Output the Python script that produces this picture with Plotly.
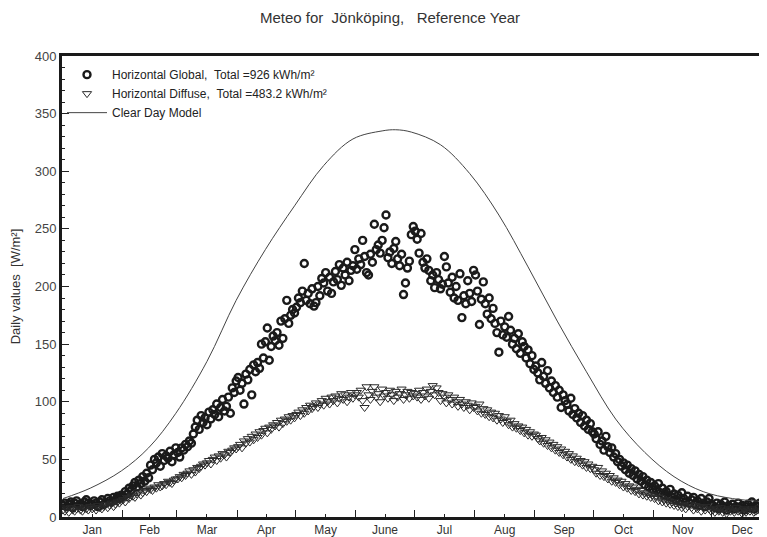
import plotly.graph_objects as go

# ---------------- data ----------------
months = ["Jan", "Feb", "Mar", "Apr", "May", "June", "Jul", "Aug", "Sep", "Oct", "Nov", "Dec"]
month_lengths = [31, 28, 31, 30, 31, 30, 31, 31, 30, 31, 30, 31]

global_jan = [10,12,9,11,13,8,12,14,10,11,9,13,15,12,10,11,14,12,9,13,15,11,12,16,14,13,17,15,18,16,19]
global_feb = [18,22,20,25,23,27,30,26,32,29,35,31,38,34,45,41,50,47,52,44,55,49,53,51,57,48,54,60]
global_mar = [56,52,60,58,63,61,66,64,72,78,84,76,88,82,86,80,91,85,93,89,98,87,95,102,92,96,104,90,112,108,118]
global_apr = [121,110,116,98,124,119,128,106,132,126,134,129,150,138,152,164,136,148,157,153,160,149,170,155,172,188,168,175,180,177]
global_may = [182,190,186,196,220,188,194,185,198,183,186,200,192,207,203,212,196,208,194,204,213,206,219,201,216,210,221,205,214,218,232]
global_jun = [215,224,219,240,226,212,210,228,221,254,232,236,229,240,251,262,225,230,220,233,239,224,218,228,193,203,216,222,245,252]
global_jul = [248,241,229,246,221,216,224,214,205,210,199,212,206,198,202,226,217,203,195,208,190,200,188,211,173,192,185,205,194,187,214]
global_aug = [210,196,167,189,204,185,176,190,172,181,168,160,143,170,158,165,156,174,162,150,155,146,159,142,152,148,138,145,133,140,128]
global_sep = [131,125,119,134,122,116,127,112,118,108,114,104,110,95,106,101,98,92,103,89,94,86,90,82,88,79,84,76,81,74]
global_oct = [72,68,74,63,66,58,70,61,56,60,52,55,48,50,44,47,41,45,38,42,36,40,33,37,31,35,28,32,26,30,24]
global_nov = [27,23,29,21,25,19,22,18,24,17,20,15,19,14,21,16,13,18,12,15,17,11,14,10,16,12,9,13,16,11]
global_dec = [10,8,12,7,11,9,13,6,10,8,11,7,9,12,8,10,6,9,11,8,13,7,10,9,12,8,11,10,13,9,12]

diffuse_jan = [6,5,7,4,8,6,5,7,9,6,5,8,7,6,9,7,8,6,10,8,7,9,11,8,10,12,9,11,13,12,14]
diffuse_feb = [15,13,17,16,19,18,17,20,22,19,21,23,22,25,24,23,26,25,28,26,27,29,28,31,30,29,32,33]
diffuse_mar = [33,35,34,37,36,38,40,37,41,39,43,42,44,46,45,47,49,46,50,52,49,53,51,55,54,52,57,56,58,60,59]
diffuse_apr = [61,63,60,66,64,68,65,70,67,72,69,74,71,75,77,73,78,76,80,79,82,78,84,81,85,83,87,84,88,86]
diffuse_may = [89,91,88,93,90,95,92,97,94,96,99,95,98,101,97,103,100,98,104,101,105,99,103,107,102,106,100,104,108,103,106]
diffuse_jun = [108,104,110,101,95,113,106,102,109,113,104,107,100,111,105,108,103,110,106,101,109,104,107,111,102,106,109,103,108,105]
diffuse_jul = [107,104,110,102,108,105,111,103,109,114,106,112,108,101,107,104,99,106,102,98,104,100,96,102,98,95,100,97,93,99,95]
diffuse_aug = [96,92,98,90,94,89,93,87,91,86,90,84,88,85,82,87,83,80,84,78,81,77,79,75,78,73,76,71,74,70,72]
diffuse_sep = [71,68,66,69,64,67,62,65,60,63,58,61,56,59,54,57,52,55,50,53,48,51,47,49,45,48,43,46,42,44]
diffuse_oct = [41,38,43,36,40,35,38,33,36,31,34,30,32,28,31,26,29,25,27,23,26,22,24,20,23,19,21,18,20,17,19]
diffuse_nov = [16,18,14,17,13,15,12,14,11,13,10,12,9,11,8,10,7,9,11,8,6,10,7,9,5,8,6,9,7,5]
diffuse_dec = [6,4,7,5,8,4,6,3,7,5,6,4,8,5,6,3,7,4,6,5,7,4,5,6,8,4,6,5,7,6,8]

clear_days = [1, 15, 31, 45, 59, 75, 90, 105, 120, 135, 150, 165, 172, 180, 195, 210, 225, 240, 255, 270, 285, 300, 315, 330, 345, 365]
clear_vals = [16, 25, 40, 60, 90, 135, 188, 232, 270, 305, 328, 335, 336, 334, 323, 298, 262, 217, 170, 126, 85, 56, 35, 22, 16, 13]

global_vals = (global_jan + global_feb + global_mar + global_apr + global_may + global_jun +
               global_jul + global_aug + global_sep + global_oct + global_nov + global_dec)
diffuse_vals = (diffuse_jan + diffuse_feb + diffuse_mar + diffuse_apr + diffuse_may + diffuse_jun +
                diffuse_jul + diffuse_aug + diffuse_sep + diffuse_oct + diffuse_nov + diffuse_dec)
days_g = list(range(1, len(global_vals) + 1))
days_d = list(range(1, len(diffuse_vals) + 1))

# month boundaries / centres (day numbers)
bounds = [0.5]
for n in month_lengths:
    bounds.append(bounds[-1] + n)
centres = [(bounds[i] + bounds[i + 1]) / 2 for i in range(12)]

NB = "\u00a0"
FONT = "Liberation Sans, Arial, sans-serif"
TXT = "#333333"

W, H = 759, 529  # page body adds an 8px offset

fig = go.Figure()
fig.add_trace(go.Scatter(
    x=days_g, y=global_vals, mode="markers",
    name="Horizontal Global," + NB * 2 + "Total =926 kWh/m²",
    marker=dict(symbol="circle-open", size=7, color="#1a1a1a", line=dict(width=2.4, color="#1a1a1a")),
))
fig.add_trace(go.Scatter(
    x=days_d, y=diffuse_vals, mode="markers",
    name="Horizontal Diffuse," + NB * 2 + "Total =483.2 kWh/m²",
    marker=dict(symbol="triangle-down-open", size=8, color="#2a2a2a", line=dict(width=1, color="#2a2a2a")),
))
fig.add_trace(go.Scatter(
    x=clear_days, y=clear_vals, mode="lines", line_shape="spline",
    name="Clear Day Model",
    line=dict(color="#444444", width=1),
))

fig.update_layout(
    width=W, height=H,
    margin=dict(l=54, r=0, t=48, b=20),
    paper_bgcolor="white", plot_bgcolor="white",
    font=dict(family=FONT, size=12, color=TXT),
    title=dict(
        text="Meteo for" + NB * 2 + "Jönköping," + NB * 3 + "Reference Year",
        x=382 / W, xref="container", xanchor="center",
        y=1 - 10 / H, yref="container", yanchor="middle",
        font=dict(family=FONT, size=15, color=TXT),
    ),
    showlegend=True,
    legend=dict(
        x=0.0, y=0.991, xanchor="left", yanchor="top",
        bgcolor="rgba(0,0,0,0)", font=dict(family=FONT, size=12, color="#222"),
        tracegroupgap=0, itemwidth=40,
    ),
    xaxis=dict(
        range=[0.5, 0.5 + 705 / 1.946],
        tickmode="array", tickvals=centres, ticktext=months,
        ticks="inside", ticklen=3, tickwidth=1, tickcolor="#222",
        tickfont=dict(family=FONT, size=12, color=TXT),
        showline=True, linewidth=3, linecolor="#1a1a1a", mirror=True,
        showgrid=False, zeroline=False,
        minor=dict(tickmode="array", tickvals=bounds, ticks="inside", ticklen=7,
                   tickwidth=1, tickcolor="#222", showgrid=False),
    ),
    yaxis=dict(
        range=[0, 400], tickmode="linear", tick0=0, dtick=50,
        ticks="inside", ticklen=7, tickwidth=1, tickcolor="#222",
        tickfont=dict(family=FONT, size=13, color="#444"),
        showline=True, linewidth=3, linecolor="#1a1a1a",
        showgrid=False, zeroline=False,
        minor=dict(dtick=10, ticks="inside", ticklen=3, tickwidth=1, tickcolor="#222", showgrid=False),
        title=dict(text="Daily values" + NB * 2 + "[W/m²]", font=dict(family=FONT, size=13, color=TXT), standoff=18),
    ),
)

fig.write_html("out.html")
